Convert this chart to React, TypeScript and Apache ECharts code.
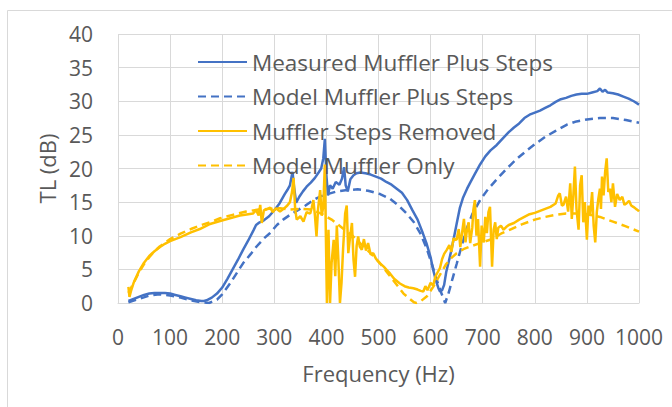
import React, { useEffect, useRef } from "react";
import * as echarts from "echarts";

const xTicks = [0, 100, 200, 300, 400, 500, 600, 700, 800, 900, 1000];
const yTicks = [0, 5, 10, 15, 20, 25, 30, 35, 40];

const seriesNames = [
  "Measured Muffler Plus Steps",
  "Model Muffler Plus Steps",
  "Muffler Steps Removed",
  "Model Muffler Only",
];

const measuredFreq = [20,30,40,50,60,70,80,90,100,110,120,130,140,150,160,165,170,180,190,200,210,220,230,240,250,260,265,270,280,290,300,310,320,325,330,335,338,342,348,355,362,370,378,385,390,394,397,400,403,407,412,418,425,430,434,437,441,446,452,458,465,475,485,495,505,515,525,535,545,555,565,575,585,592,600,605,610,615,618,622,626,630,635,640,645,650,656,662,670,676,685,695,705,715,727,740,750,760,770,780,790,800,810,820,830,840,850,860,870,880,890,900,910,920,925,930,935,940,950,960,970,980,990,1000];
const measuredTL = [0.3,0.6,0.9,1.2,1.4,1.5,1.5,1.5,1.4,1.2,1.0,0.8,0.6,0.4,0.3,0.3,0.4,0.8,1.4,2.3,3.6,5.0,6.4,7.9,9.3,10.8,11.6,11.9,12.3,12.9,13.8,14.8,16.2,16.8,17.5,19.5,17.2,14.9,15.8,16.6,17.3,17.9,18.6,19.4,20.0,21.5,24.4,19.0,16.0,17.5,17.0,18.0,17.6,18.5,20.2,17.5,16.6,18.4,19.0,19.3,19.4,19.3,19.1,18.8,18.5,18.0,17.6,17.0,16.4,15.3,13.8,12.4,10.4,8.9,6.8,4.9,3.4,2.2,1.7,1.9,2.7,4.6,6.2,7.9,9.8,11.8,14.1,15.6,17.0,17.9,19.2,20.6,21.8,22.7,23.5,24.6,25.4,26.1,26.7,27.5,28.0,28.3,28.6,29.0,29.4,29.9,30.3,30.5,30.8,31.0,31.1,31.1,31.3,31.5,31.9,31.4,31.7,31.3,31.2,31.0,30.7,30.4,30.0,29.5];

const modelFreq = [20,40,60,80,100,120,140,160,175,190,200,215,230,240,255,266,280,292,305,317,330,343,360,375,390,407,420,440,460,480,503,522,540,554,568,580,592,602,612,620,628,635,642,650,660,669,680,695,710,727,745,765,785,800,820,840,861,880,900,925,950,975,1000];
const modelTL = [0.1,0.6,1.1,1.3,1.1,0.8,0.4,0.1,0.0,0.5,1.3,2.9,4.7,5.9,7.3,8.4,9.6,10.4,11.6,12.4,13.1,13.7,14.5,15.3,15.9,16.3,16.6,16.8,16.9,16.7,16.2,15.5,14.4,13.3,12.0,10.4,8.2,5.9,3.4,1.6,0.0,1.6,3.6,5.8,8.6,11.0,13.2,15.3,16.9,18.4,19.9,21.4,22.7,23.6,24.7,25.6,26.5,27.0,27.3,27.5,27.5,27.2,26.8];

const removedFreq = [20,22,25,30,40,50,60,70,80,90,100,120,140,157,175,196,215,234,250,259,265,270,273,276,280,285,292,297,303,311,318,325,330,334,337,340,343,350,356,362,369,372,375,378,381,384,388,391,394,397,399,401,404,407,410,414,417,420,423,426,429,432,436,439,442,445,449,452,455,458,461,464,468,472,476,480,485,490,495,503,510,516,522,530,541,550,558,567,575,581,586,590,594,600,605,609,613,618,622,626,631,636,640,644,650,654,657,660,664,667,669,673,676,680,682,685,688,691,695,698,702,705,708,711,714,716,718,721,724,727,730,735,740,745,750,760,770,780,790,800,810,820,830,840,845,848,852,855,860,864,868,871,874,877,880,884,887,890,893,896,900,903,906,910,913,916,919,922,925,927,929,932,935,938,941,944,947,950,954,958,963,968,972,976,981,985,989,994,998,1000];
const removedTL = [2.4,0.9,1.8,3.0,4.7,6.0,7.0,7.7,8.3,8.8,9.2,9.8,10.5,11.0,11.7,12.2,12.6,13.0,13.2,13.3,13.8,13.0,14.6,11.9,13.8,13.9,14.2,13.5,14.1,13.6,14.0,14.5,15.0,16.5,18.6,14.0,12.4,12.9,12.1,13.5,13.3,14.2,15.3,13.0,9.9,14.0,16.8,13.0,14.3,20.6,10.0,0.0,10.9,0.0,6.0,9.4,4.0,11.5,6.4,0.0,3.0,8.0,13.3,14.5,7.4,9.5,11.9,6.5,3.9,8.5,9.9,8.4,7.9,9.5,7.8,8.9,7.2,7.4,6.6,5.9,5.4,4.9,4.4,3.6,2.9,2.5,2.3,2.2,2.0,1.8,1.7,2.5,1.9,3.0,2.6,3.9,4.5,5.2,6.5,7.3,7.9,8.6,7.6,9.6,9.4,11.0,8.3,10.2,12.5,9.0,10.4,12.0,8.9,11.2,13.8,15.3,10.0,12.5,5.4,11.5,9.0,12.8,10.4,13.5,14.3,9.8,5.4,10.9,12.0,9.5,11.2,11.5,10.9,11.3,11.6,11.9,12.4,12.8,13.2,13.4,13.7,14.0,14.3,14.8,16.0,16.3,14.5,14.6,15.8,13.6,17.8,12.5,16.0,20.3,14.0,10.9,17.5,19.0,12.0,15.0,9.4,14.5,13.0,16.5,11.5,9.0,13.5,15.5,17.0,14.0,18.8,16.0,19.5,21.5,16.5,17.0,15.0,17.8,14.3,16.2,15.3,15.8,14.6,14.8,15.2,14.5,14.3,14.0,13.8,13.6];

const onlyFreq = [20,30,40,50,60,70,80,100,120,140,160,180,196,220,246,270,290,311,330,350,370,390,410,430,450,470,490,505,522,535,548,560,568,573,580,593,605,618,630,640,650,663,676,695,714,735,755,775,800,820,840,860,880,900,925,950,975,1000];
const onlyTL = [1.5,3.0,4.5,5.8,6.8,7.7,8.4,9.5,10.3,11.0,11.6,12.1,12.6,13.1,13.6,13.9,14.0,14.1,13.9,14.0,13.9,13.3,12.4,11.2,10.0,8.5,7.0,5.7,4.0,2.7,1.4,0.6,0.1,0.0,0.2,1.0,2.4,4.2,5.8,6.7,7.4,8.0,8.4,8.9,9.4,10.3,11.0,11.7,12.4,12.8,13.1,13.3,13.3,13.2,12.8,12.1,11.4,10.6];

const BLUE = "#4472C4";
const GOLD = "#FFC000";
const TEXT = "#595959";
const GRID = "#d9d9d9";
const FONT = "Open Sans";

function pairs(xs: number[], ys: number[]) {
  return xs.map((x, i) => [x, ys[i]]);
}

export default function App() {
  const ref = useRef<HTMLDivElement>(null);
  useEffect(() => {
    if (!ref.current) return;
    const chart = echarts.init(ref.current, undefined, { renderer: "svg" });
    const mk = (name: string, xs: number[], ys: number[], color: string, dashed: boolean) => ({
      name,
      type: "line",
      data: pairs(xs, ys),
      showSymbol: false,
      symbol: "none",
      lineStyle: { color, width: 2.5, type: dashed ? [8, 5] : "solid" },
      itemStyle: { color },
      emphasis: { disabled: true },
    });
    chart.setOption({
      animation: false,
      backgroundColor: "#ffffff",
      textStyle: { fontFamily: FONT },
      graphic: [
        {
          type: "rect",
          shape: { x: 7.5, y: 10.5, width: 700, height: 500 },
          style: { fill: "none", stroke: GRID, lineWidth: 1 },
          silent: true,
        },
      ],
      grid: { left: 118, right: 33, top: 34, bottom: 104 },
      legend: {
        orient: "vertical",
        left: 197,
        top: 49,
        padding: 0,
        itemWidth: 49,
        itemHeight: 14,
        itemGap: 8.5,
        data: seriesNames,
        itemStyle: { opacity: 0, borderWidth: 0 },
        textStyle: { color: TEXT, fontSize: 22.5, fontFamily: FONT, lineHeight: 26 },
      },
      xAxis: {
        type: "value",
        min: xTicks[0],
        max: xTicks[xTicks.length - 1],
        interval: 100,
        name: "Frequency (Hz)",
        nameLocation: "middle",
        nameGap: 59,
        nameTextStyle: { color: TEXT, fontSize: 22, fontFamily: FONT },
        axisLine: { show: true, lineStyle: { color: GRID, width: 1 } },
        axisTick: { show: false },
        axisLabel: {
          color: TEXT,
          fontSize: 21,
          fontFamily: FONT,
          margin: 23,
          formatter: (v: number) => String(v),
        },
        splitLine: { show: true, lineStyle: { color: GRID, width: 1 } },
      },
      yAxis: {
        type: "value",
        min: yTicks[0],
        max: yTicks[yTicks.length - 1],
        interval: 5,
        name: "TL (dB)",
        nameLocation: "middle",
        nameGap: 58,
        nameTextStyle: { color: TEXT, fontSize: 22, fontFamily: FONT },
        axisLine: { show: false },
        axisTick: { show: false },
        axisLabel: { color: TEXT, fontSize: 21, fontFamily: FONT, margin: 25, formatter: (v: number) => String(v) },
        splitLine: { show: true, lineStyle: { color: GRID, width: 1 } },
      },
      series: [
        mk(seriesNames[0], measuredFreq, measuredTL, BLUE, false),
        mk(seriesNames[1], modelFreq, modelTL, BLUE, true),
        mk(seriesNames[2], removedFreq, removedTL, GOLD, false),
        mk(seriesNames[3], onlyFreq, onlyTL, GOLD, true),
      ],
    });
    return () => chart.dispose();
  }, []);
  return (
    <div
      ref={ref}
      style={{ position: "fixed", left: 0, top: 0, width: 672, height: 407, background: "#fff" }}
    />
  );
}
